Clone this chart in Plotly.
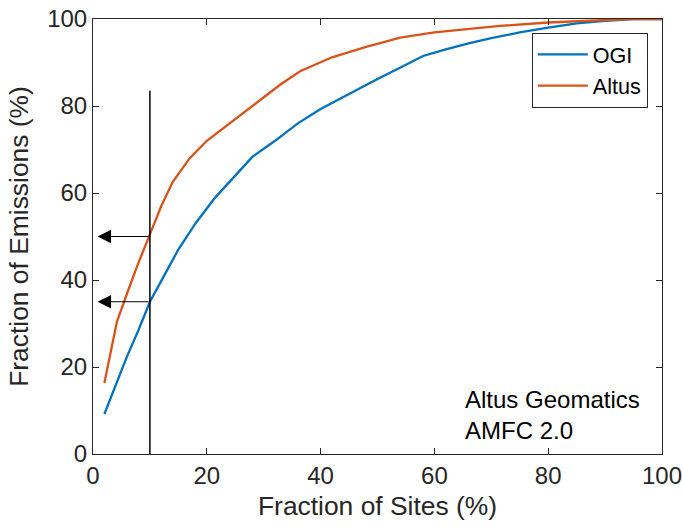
import plotly.graph_objects as go

# Cumulative fraction of emissions vs. fraction of sites
ogi_sites = [2, 4, 6, 8, 10, 12.5, 15, 18, 21.5, 25, 28, 32, 36, 40, 45, 50, 55, 58,
             62, 66, 70, 75, 80, 85, 90, 95, 100]
ogi_emis = [9.2, 16, 22.5, 28.5, 35, 41, 47, 53, 59, 64, 68.3, 72, 76, 79.3, 82.8, 86.2,
            89.5, 91.5, 93, 94.4, 95.6, 96.9, 98, 99, 99.6, 100, 100]

altus_sites = [2, 4.2, 6.2, 8, 10, 12, 14, 17, 20, 23, 28, 33, 36.4, 42, 48, 54, 60, 66,
               71.5, 80, 88, 94, 100]
altus_emis = [16.3, 30.4, 37.7, 44, 50.5, 57, 62.5, 68, 72, 75, 80, 85, 88, 91.2, 93.6,
              95.7, 96.9, 97.7, 98.4, 99.2, 99.7, 100, 100]

cut_x = 10
cut_top = 83.5
arrow_levels = [50, 35]
arrow_tip_x = 0.8

x_ticks = [0, 20, 40, 60, 80, 100]
y_ticks = [0, 20, 40, 60, 80, 100]

BLUE = "#0072BD"
ORANGE = "#D95319"
AX = "#262626"
FONT = "Liberation Sans, Arial, sans-serif"

fig = go.Figure()
fig.add_trace(go.Scatter(x=ogi_sites, y=ogi_emis, mode="lines", name="OGI",
                         line=dict(color=BLUE, width=2.3)))
fig.add_trace(go.Scatter(x=altus_sites, y=altus_emis, mode="lines", name="Altus",
                         line=dict(color=ORANGE, width=2.3)))

fig.add_shape(type="line", x0=cut_x, x1=cut_x, y0=0, y1=cut_top, xref="x", yref="y",
              line=dict(color="black", width=1.5))

for lvl in arrow_levels:
    fig.add_annotation(x=arrow_tip_x, y=lvl, ax=cut_x, ay=lvl, xref="x", yref="y",
                       axref="x", ayref="y", text="", showarrow=True,
                       arrowhead=2, arrowsize=2.7, arrowwidth=1, arrowcolor="black")

fig.add_annotation(x=65, y=9, xref="x", yref="y", xanchor="left", yanchor="middle",
                   text="Altus Geomatics<br>AMFC 2.0", showarrow=False, align="left",
                   font=dict(family=FONT, size=24, color="black"))

axis_common = dict(showline=True, linecolor=AX, linewidth=1, mirror="ticks",
                   ticks="inside", ticklen=6, tickcolor=AX, showgrid=False,
                   zeroline=False, automargin=False,
                   tickfont=dict(family=FONT, size=24, color=AX))

fig.update_xaxes(range=[0, 100], tickvals=x_ticks,
                 title=dict(text="Fraction of Sites (%)", standoff=8,
                            font=dict(family=FONT, size=26.4, color=AX)),
                 **axis_common)
fig.update_yaxes(range=[0, 100], tickvals=y_ticks,
                 title=dict(text="Fraction of Emissions (%)", standoff=10,
                            font=dict(family=FONT, size=26.4, color=AX)),
                 **axis_common)

fig.update_layout(
    width=683, height=529, autosize=False,
    margin=dict(l=93, r=21, t=19, b=75),
    plot_bgcolor="white", paper_bgcolor="white",
    font=dict(family=FONT, color=AX),
    showlegend=True,
    legend=dict(x=0.975, y=0.968, xanchor="right", yanchor="top",
                bgcolor="white", bordercolor=AX, borderwidth=1,
                font=dict(family=FONT, size=21.6, color="black"),
                itemwidth=50, tracegroupgap=0),
)

fig.write_html("out.html")
